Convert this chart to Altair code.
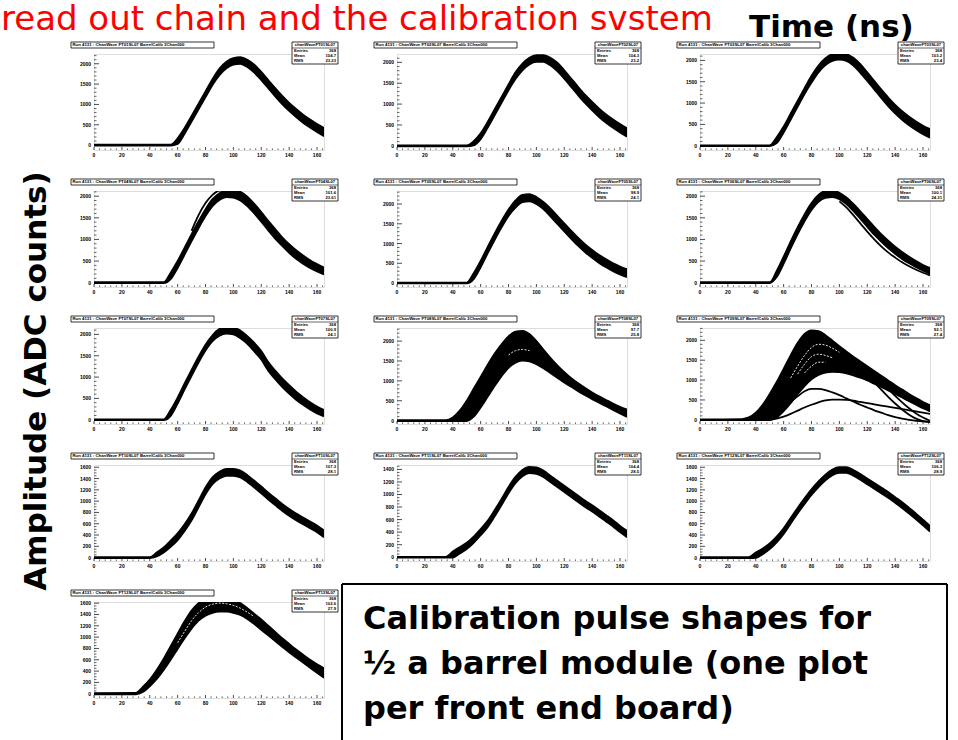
import altair as alt
import pandas as pd

# ---------------- data ----------------
T = [0, 30, 35, 40, 45, 50, 55, 60, 65, 70, 75, 80, 85, 90, 95, 100, 105, 110,
     115, 120, 125, 130, 135, 140, 145, 150, 155, 160, 165]
N = None

P1_LO = [-10,-10,-10,-10,-10,-10,-10,30,280,580,880,1180,1480,1720,1890,1980,2000,1920,1780,1600,1400,1200,1010,840,690,550,430,320,220]
P1_HI = [10,10,10,10,10,10,10,170,420,720,1020,1320,1620,1880,2050,2140,2160,2100,1980,1800,1600,1400,1210,1040,890,750,630,520,420]
P2_LO = [-10,-10,-10,-10,-10,-10,10,160,430,730,1030,1330,1600,1810,1950,2010,2010,1930,1790,1610,1410,1210,1020,850,690,550,430,320,220]
P2_HI = [10,10,10,10,10,10,110,300,570,870,1170,1470,1760,1970,2110,2170,2170,2110,1990,1810,1610,1410,1220,1050,890,750,630,520,420]
P3_LO = [-10,-10,-10,-10,-10,-10,60,310,610,910,1210,1480,1720,1890,1990,2020,1990,1880,1710,1520,1320,1120,930,760,610,480,370,270,190]
P3_HI = [10,10,10,10,10,10,200,450,750,1050,1350,1640,1880,2050,2150,2180,2150,2060,1910,1720,1520,1320,1130,960,810,680,570,470,390]
P4_LO = [-10,-10,-10,-10,-10,-10,80,340,650,960,1260,1540,1770,1910,1980,1970,1900,1770,1600,1410,1210,1020,850,690,550,440,340,260,190]
P4_HI = [10,10,10,10,10,10,230,500,810,1120,1420,1700,1930,2070,2140,2150,2100,1990,1820,1630,1430,1240,1050,890,750,630,520,430,350]
P4_X1 = [N,N,N,N,N,N,N,N,N,1200,1560,1840,2030,2130,2140,2100,N,N,N,N,N,N,N,N,N,N,N,N,N]
P5_LO = [-10,-10,-10,-10,-10,-10,100,400,750,1090,1410,1700,1910,2050,2070,2000,1870,1690,1500,1310,1120,940,780,640,510,400,300,220,150]
P5_HI = [10,10,10,10,10,10,250,560,910,1250,1570,1860,2090,2230,2250,2180,2050,1890,1700,1510,1320,1140,980,840,710,600,500,420,350]
P6_LO = [-10,-10,-10,-10,-10,-10,130,440,790,1120,1420,1680,1870,1960,1980,1930,1820,1660,1480,1290,1110,950,800,670,550,450,360,280,210]
P6_HI = [10,10,10,10,10,10,270,600,950,1280,1580,1840,2030,2120,2130,2080,1970,1820,1650,1470,1290,1120,970,830,710,600,500,410,340]
P6_X1 = [N,N,N,N,N,N,N,N,N,N,N,N,N,N,N,1880,1740,1560,1370,1180,1000,840,700,580,470,380,300,230,170]
P7_LO = [-10,-10,-10,-10,-10,-10,90,380,710,1030,1340,1620,1840,1970,2020,2000,1910,1780,1600,1410,1150,950,770,610,470,350,240,150,80]
P7_HI = [10,10,10,10,10,10,230,520,850,1170,1480,1760,1980,2130,2180,2160,2090,1960,1800,1610,1350,1150,970,810,660,530,410,310,230]
P8_LO = [-10,-10,-10,-10,-10,-10,100,330,600,870,1120,1330,1460,1510,1490,1420,1320,1200,1080,960,850,740,640,540,450,360,270,180,90]
P8_HI = [10,10,10,80,250,500,800,1100,1400,1680,1920,2120,2240,2260,2180,2000,1790,1580,1390,1220,1070,940,820,710,610,520,430,350,280]
P8_W1 = [N,N,N,N,N,N,N,N,N,N,N,1650,1760,1790,1760,N,N,N,N,N,N,N,N,N,N,N,N,N,N]
P9_LO = [-10,-10,-10,-10,-10,-10,60,220,420,640,850,1020,1130,1190,1210,1200,1170,1120,1060,990,910,830,740,650,560,470,380,290,210]
P9_HI = [10,20,60,180,380,650,950,1280,1620,1930,2160,2250,2230,2130,1990,1850,1720,1590,1470,1350,1230,1110,990,870,760,650,550,450,370]
P9_L1 = [N,N,N,0,20,80,180,310,450,590,720,780,780,750,690,620,540,460,380,310,240,180,120,70,30,0,-25,-40,-45]
P9_L2 = [N,N,N,N,N,0,30,80,150,230,310,380,440,490,510,510,500,480,450,420,390,360,330,300,270,240,210,180,150]
P9_S1 = [N,N,N,N,N,N,N,N,N,N,N,N,N,N,N,N,N,N,1350,1150,950,760,580,410,260,130,30,-30,-60]
P9_S2 = [N,N,N,N,N,N,N,N,N,N,N,N,N,N,N,N,N,N,N,N,1150,960,780,600,440,290,160,60,-20]
P9_W1 = [N,N,N,N,N,N,N,N,1050,1350,1620,1820,1900,1880,1800,1700,N,N,N,N,N,N,N,N,N,N,N,N,N]
P9_W2 = [N,N,N,N,N,N,N,N,N,1150,1400,1590,1650,1620,1560,N,N,N,N,N,N,N,N,N,N,N,N,N,N]
P9_W3 = [N,N,N,N,N,N,N,N,N,N,1180,1350,1450,1450,N,N,N,N,N,N,N,N,N,N,N,N,N,N,N]
P10_LO = [-8,-8,-8,-8,20,90,190,310,470,660,890,1120,1300,1400,1450,1450,1420,1340,1240,1140,1030,930,830,740,660,590,520,450,360]
P10_HI = [8,8,8,8,90,180,300,430,590,780,1010,1240,1420,1520,1570,1570,1540,1460,1360,1260,1150,1050,950,860,780,710,640,570,480]
P11_LO = [-7,-7,-7,-5,60,130,230,350,480,650,830,1020,1180,1290,1340,1330,1280,1200,1120,1040,960,880,800,730,650,570,490,400,320]
P11_HI = [7,7,7,90,160,230,330,450,580,750,930,1120,1280,1390,1440,1430,1380,1300,1220,1140,1060,980,900,830,750,670,590,500,420]
P12_LO = [-8,-8,-8,-5,60,150,270,420,600,780,950,1110,1250,1370,1460,1500,1500,1450,1380,1300,1220,1140,1060,970,880,780,680,570,460]
P12_HI = [8,8,8,90,160,250,370,520,700,880,1050,1210,1350,1470,1560,1600,1600,1550,1480,1400,1320,1240,1160,1070,980,880,780,670,560]
P13_LO = [-10,-10,30,130,260,420,600,790,980,1150,1290,1380,1430,1450,1450,1430,1390,1320,1230,1130,1030,930,830,730,640,550,460,370,280]
P13_HI = [10,15,120,250,420,620,840,1060,1280,1470,1600,1680,1720,1720,1700,1660,1600,1510,1410,1310,1200,1090,980,880,780,690,600,520,450]
P13_W1 = [N,N,N,N,N,N,N,900,1100,1290,1430,1530,1580,1600,1590,1560,1510,1440,1360,N,N,N,N,N,N,N,N,N,N]

Y_DOMAINS = [[-120, 2240], [-100, 2200], [-100, 2150],
             [-100, 2120], [-100, 2330], [-100, 2120],
             [-100, 2150], [-85, 2330], [-105, 2310],
             [-60, 1640], [-60, 1470], [-60, 1640],
             [-75, 1620]]

X_MAJOR = [0, 20, 40, 60, 80, 100, 120, 140, 160]
X_MINOR = [4, 8, 12, 16, 24, 28, 32, 36, 44, 48, 52, 56, 64, 68, 72, 76, 84, 88, 92, 96,
           104, 108, 112, 116, 124, 128, 132, 136, 144, 148, 152, 156, 164]
Y_MAJOR_BIG = [0, 500, 1000, 1500, 2000]
Y_MINOR_BIG = [100, 200, 300, 400, 600, 700, 800, 900, 1100, 1200, 1300, 1400,
               1600, 1700, 1800, 1900, 2100, 2200, 2300]
Y_MAJOR_SMALL = [0, 200, 400, 600, 800, 1000, 1200, 1400, 1600]
Y_MINOR_SMALL = [50, 100, 150, 250, 300, 350, 450, 500, 550, 650, 700, 750, 850, 900, 950,
                 1050, 1100, 1150, 1250, 1300, 1350, 1450, 1500, 1550]

TITLES = ["Run 4131 : ChanWave FT01SL07 BarrelCalib 3Chan000",
          "Run 4131 : ChanWave FT02SL07 BarrelCalib 3Chan000",
          "Run 4131 : ChanWave FT03SL07 BarrelCalib 3Chan000",
          "Run 4131 : ChanWave FT04SL07 BarrelCalib 3Chan000",
          "Run 4131 : ChanWave FT05SL07 BarrelCalib 3Chan000",
          "Run 4131 : ChanWave FT06SL07 BarrelCalib 3Chan000",
          "Run 4131 : ChanWave FT07SL07 BarrelCalib 3Chan000",
          "Run 4131 : ChanWave FT08SL07 BarrelCalib 3Chan000",
          "Run 4131 : ChanWave FT09SL07 BarrelCalib 3Chan000",
          "Run 4131 : ChanWave FT10SL07 BarrelCalib 3Chan000",
          "Run 4131 : ChanWave FT11SL07 BarrelCalib 3Chan000",
          "Run 4131 : ChanWave FT12SL07 BarrelCalib 3Chan000",
          "Run 4131 : ChanWave FT13SL07 BarrelCalib 3Chan000"]
STAT_NAMES = ["chanWaveFT01SL07", "chanWaveFT02SL07", "chanWaveFT03SL07", "chanWaveFT04SL07",
              "chanWaveFT05SL07", "chanWaveFT06SL07", "chanWaveFT07SL07", "chanWaveFT08SL07",
              "chanWaveFT09SL07", "chanWaveFT10SL07", "chanWaveFT11SL07", "chanWaveFT12SL07",
              "chanWaveFT13SL07"]
STAT_ENTRIES = ["368", "368", "368", "368", "368", "368", "368", "368", "368", "368", "368", "368", "368"]
STAT_MEAN = ["104.7", "104.3", "103.2", "101.6", "98.9", "100.1", "100.9", "97.7", "92.1",
             "107.3", "104.4", "106.3", "102.6"]
STAT_RMS = ["23.23", "23.2", "23.4", "23.61", "24.1", "24.31", "24.1", "25.8", "27.4",
            "28.1", "28.5", "28.9", "27.9"]

HEADER = "read out chain and the calibration svstem"
X_TITLE = "Time (ns)"
Y_TITLE = "Amplitude (ADC counts)"
BOX_LINES = ["Calibration pulse shapes for", "\u00bd a barrel module (one plot", "per front end board)"]

BANDS = [(P1_LO, P1_HI), (P2_LO, P2_HI), (P3_LO, P3_HI), (P4_LO, P4_HI), (P5_LO, P5_HI),
         (P6_LO, P6_HI), (P7_LO, P7_HI), (P8_LO, P8_HI), (P9_LO, P9_HI), (P10_LO, P10_HI),
         (P11_LO, P11_HI), (P12_LO, P12_HI), (P13_LO, P13_HI)]
EXTRAS = {3: [P4_X1], 5: [P6_X1], 8: [P9_L1, P9_L2, P9_S1, P9_S2]}
WHITES = {7: [P8_W1], 8: [P9_W1, P9_W2, P9_W3], 12: [P13_W1]}

# ---------------- layout ----------------
W, H = 230, 96
OX, OY = 93, 53          # screen position of the first plot's origin
TICK_FONT = "Liberation Sans"
BIG_FONT = "DejaVu Sans"


def one_text(s, x, y, size, weight="normal", color="black", angle=0, align="left",
             baseline="alphabetic", font=BIG_FONT):
    return alt.Chart(pd.DataFrame({"s": [s]})).mark_text(
        align=align, baseline=baseline, fontSize=size, fontWeight=weight,
        color=color, font=font, angle=angle).encode(
        x=alt.value(x), y=alt.value(y), text="s:N")


def one_rect(x, x2, y, y2, fill="white", stroke="black", sw=0.8):
    return alt.Chart(pd.DataFrame({"s": [0]})).mark_rect(
        fill=fill, stroke=stroke, strokeWidth=sw).encode(
        x=alt.value(x), x2=alt.value(x2), y=alt.value(y), y2=alt.value(y2))


def one_rule(x, x2, y, y2, sw=1.0):
    return alt.Chart(pd.DataFrame({"s": [0]})).mark_rule(
        color="black", strokeWidth=sw).encode(
        x=alt.value(x), x2=alt.value(x2), y=alt.value(y), y2=alt.value(y2))


def long_df(curves):
    rows = []
    for ci, c in enumerate(curves):
        for t, a in zip(T, c):
            if a is not None:
                rows.append({"t": t, "a": a, "c": ci})
    return pd.DataFrame(rows)


def panel(i):
    lo, hi = BANDS[i]
    ydom = Y_DOMAINS[i]
    small = i >= 9
    ymaj = Y_MAJOR_SMALL if small else Y_MAJOR_BIG
    ymaj = [v for v in ymaj if ydom[0] <= v <= ydom[1]]
    ymin = [v for v in (Y_MINOR_SMALL if small else Y_MINOR_BIG) if ydom[0] < v < ydom[1]]

    xs = alt.Scale(domain=[0, 165], nice=False, zero=False)
    ys = alt.Scale(domain=ydom, nice=False, zero=False)

    band = pd.DataFrame({"t": T, "lo": lo, "hi": hi})
    layers = [
        alt.Chart(band).mark_area(color="black", interpolate="monotone", clip=True).encode(
            x=alt.X("t:Q", scale=xs, axis=None),
            y=alt.Y("lo:Q", scale=ys, axis=None),
            y2="hi:Q"),
        alt.Chart(long_df([lo, hi] + EXTRAS.get(i, []))).mark_line(
            color="black", strokeWidth=1.8, interpolate="monotone", clip=True).encode(
            x=alt.X("t:Q", scale=xs, axis=None),
            y=alt.Y("a:Q", scale=ys, axis=None),
            detail="c:N"),
    ]
    if i in WHITES:
        layers.append(alt.Chart(long_df(WHITES[i])).mark_line(
            color="white", strokeWidth=0.9, strokeDash=[2, 1.5], interpolate="monotone",
            clip=True).encode(
            x=alt.X("t:Q", scale=xs, axis=None),
            y=alt.Y("a:Q", scale=ys, axis=None),
            detail="c:N"))
    # ROOT-style inner ticks and tick labels
    layers += [
        alt.Chart(pd.DataFrame({"t": X_MAJOR})).mark_rule(color="black", strokeWidth=0.7).encode(
            x=alt.X("t:Q", scale=xs, axis=None), y=alt.value(H), y2=alt.value(H - 3)),
        alt.Chart(pd.DataFrame({"t": X_MINOR})).mark_rule(color="black", strokeWidth=0.6).encode(
            x=alt.X("t:Q", scale=xs, axis=None), y=alt.value(H), y2=alt.value(H - 1.6)),
        alt.Chart(pd.DataFrame({"a": ymaj})).mark_rule(color="black", strokeWidth=0.7).encode(
            y=alt.Y("a:Q", scale=ys, axis=None), x=alt.value(0), x2=alt.value(5)),
        alt.Chart(pd.DataFrame({"a": ymin})).mark_rule(color="black", strokeWidth=0.6).encode(
            y=alt.Y("a:Q", scale=ys, axis=None), x=alt.value(0), x2=alt.value(2.5)),
        alt.Chart(pd.DataFrame({"t": X_MAJOR, "s": [str(v) for v in X_MAJOR]})).mark_text(
            font=TICK_FONT, fontSize=5, fontWeight="bold", align="center", baseline="top",
            color="black").encode(
            x=alt.X("t:Q", scale=xs, axis=None), y=alt.value(H + 2.5), text="s:N"),
        alt.Chart(pd.DataFrame({"a": ymaj, "s": [str(v) for v in ymaj]})).mark_text(
            font=TICK_FONT, fontSize=5, fontWeight="bold", align="right", baseline="middle",
            color="black").encode(
            y=alt.Y("a:Q", scale=ys, axis=None), x=alt.value(-3), text="s:N"),
    ]
    # histogram title box
    layers += [one_rect(-23, 120, -12, -6),
               one_text(TITLES[i], -21.5, -8.8, 4.3, weight="bold", baseline="middle",
                        font=TICK_FONT)]
    # statistics box
    sx, sx2 = W - 32, W + 14
    layers += [one_rect(sx, sx2, -12, 10),
               one_text(STAT_NAMES[i], (sx + sx2) / 2, -8.8, 4.2, weight="bold",
                        align="center", baseline="middle", font=TICK_FONT),
               one_rule(sx, sx2, -6, -6, sw=0.6)]
    for k, (lab, val) in enumerate(zip(["Entries", "Mean", "RMS"],
                                       [STAT_ENTRIES[i], STAT_MEAN[i], STAT_RMS[i]])):
        yy = -3 + 5 * k
        layers.append(one_text(lab, sx + 2, yy, 4.2, weight="bold", baseline="middle",
                               font=TICK_FONT))
        layers.append(one_text(val, sx2 - 2, yy, 4.2, weight="bold", align="right",
                               baseline="middle", font=TICK_FONT))

    if i == 0:
        # page-level annotations, positioned relative to the first plot
        layers += [
            one_rect(-OX, -OX + 1, -OY, -OY + 1, fill="white", stroke="white", sw=0),
            one_text(HEADER, 0 - OX, 29 - OY, 34, color="#ff0000"),
            one_text(X_TITLE, 748 - OX, 36 - OY, 31, weight="bold"),
            one_text(Y_TITLE, 45 - OX, 380 - OY, 31, weight="bold", angle=270,
                     align="center"),
            one_rule(341 - OX, 946 - OX, 583 - OY, 583 - OY, sw=2),
            one_rule(341 - OX, 341 - OX, 583 - OY, 739 - OY, sw=2),
            one_rule(946 - OX, 946 - OX, 583 - OY, 739 - OY, sw=2),
        ]
        for k, line in enumerate(BOX_LINES):
            layers.append(one_text(line, 362 - OX, 628 + 45 * k - OY, 32, weight="bold"))

    return alt.layer(*layers).properties(width=W, height=H)


panels = [panel(i) for i in range(13)]

chart = alt.concat(
    *panels, columns=3, spacing={"row": 41, "column": 73}, bounds="flush", padding=0
).configure_view(stroke="black", strokeWidth=1).configure(background="white")

chart.save("out.html", embed_options={"renderer": "svg", "actions": False})
